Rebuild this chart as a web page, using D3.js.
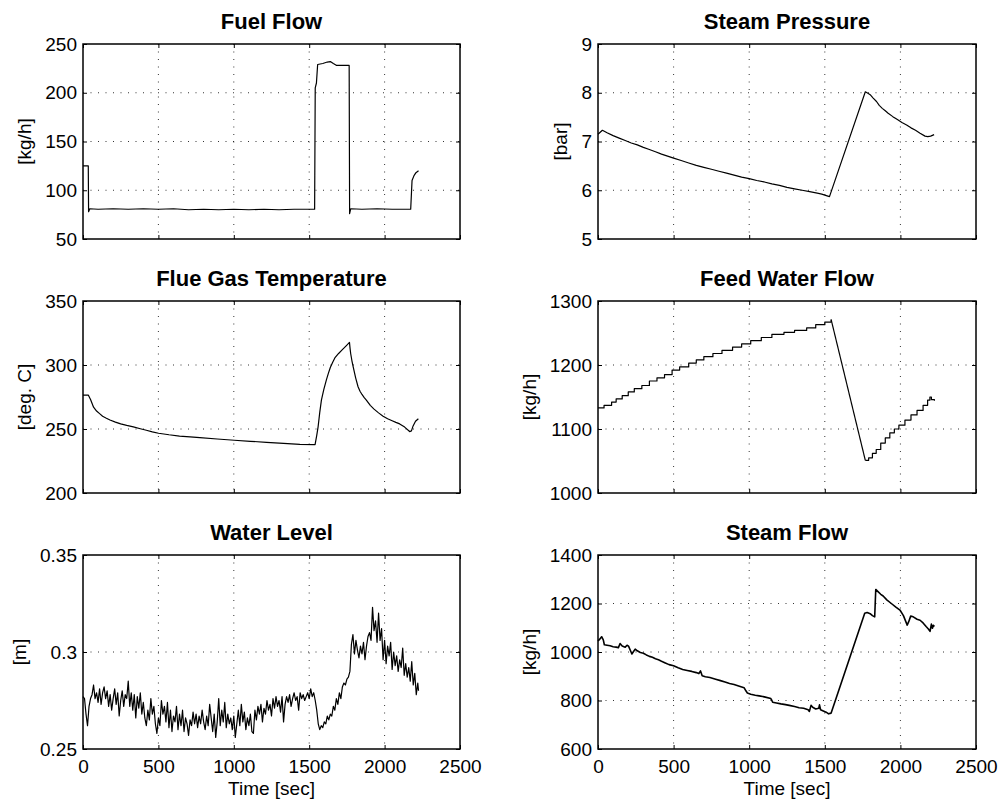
<!DOCTYPE html>
<html>
<head>
<meta charset="utf-8">
<script src="https://cdn.jsdelivr.net/npm/d3@7"></script>
<style>
  html, body { margin: 0; padding: 0; background: #fff; }
  svg { display: block; font-family: "Liberation Sans", Arial, Helvetica, sans-serif; }
  .tick text { font-size: 19px; fill: #000; }
  .title { font-size: 22px; font-weight: bold; }
  .lab { font-size: 19px; }
</style>
</head>
<body>
<svg id="chart" width="1003" height="802"></svg>
<script>
// --- données (t en s) ---
const timeTicks = [0, 500, 1000, 1500, 2000, 2500];

const fuelFlow = [
  [0, 125], [35, 125], [37, 78], [45, 81], [100, 80.5], [200, 81], [300, 80.5], [400, 81],
  [500, 80.5], [600, 81], [700, 80], [800, 80.5], [900, 80], [1000, 80.5], [1100, 80],
  [1200, 80.5], [1300, 80], [1400, 80.5], [1536, 80.5], [1540, 205], [1548, 210],
  [1556, 229], [1590, 230], [1620, 231.5], [1640, 232], [1660, 230], [1682, 228],
  [1720, 228], [1765, 228], [1768, 76], [1775, 81], [1850, 80.5], [1950, 81],
  [2050, 80.5], [2173, 80.5], [2182, 110], [2195, 115], [2208, 118], [2225, 120]
];

const steamPressure = [
  [0, 7.15], [29, 7.23], [60, 7.18], [100, 7.12], [140, 7.07], [180, 7.02], [220, 6.97],
  [260, 6.93], [300, 6.88], [335, 6.84], [380, 6.79], [420, 6.74], [460, 6.70], [500, 6.66],
  [550, 6.61], [600, 6.56], [650, 6.51], [700, 6.47], [750, 6.43], [800, 6.39], [850, 6.35],
  [900, 6.31], [950, 6.27], [1000, 6.24], [1050, 6.20], [1100, 6.17], [1150, 6.13],
  [1200, 6.10], [1250, 6.06], [1300, 6.03], [1350, 6.00], [1400, 5.97], [1450, 5.94],
  [1480, 5.92], [1510, 5.89], [1531, 5.87], [1768, 8.02], [1785, 7.99], [1800, 7.96],
  [1820, 7.89], [1842, 7.82], [1860, 7.74], [1880, 7.68], [1900, 7.63], [1919, 7.58],
  [1950, 7.51], [1980, 7.45], [2010, 7.39], [2041, 7.34], [2070, 7.28], [2100, 7.23],
  [2130, 7.17], [2163, 7.11], [2181, 7.10], [2200, 7.11], [2223, 7.14]
];

const flueGasTemp = [
  [0, 276.5], [35, 276.5], [50, 273], [70, 267], [90, 264], [110, 262], [130, 260],
  [155, 258.4], [179, 257], [215, 255.4], [250, 254], [290, 252.8], [334, 251.7],
  [380, 250.2], [420, 249], [460, 247.8], [501, 246.7], [570, 245.5], [640, 244.5],
  [710, 243.9], [775, 243.3], [890, 242.2], [1003, 241.2], [1110, 240.4], [1217, 239.6],
  [1330, 238.8], [1438, 238], [1539, 237.8], [1550, 245], [1559, 251.7], [1570, 263],
  [1581, 272.6], [1597, 281], [1614, 288.4], [1627, 293.5], [1640, 298], [1655, 302],
  [1670, 305.5], [1695, 309], [1720, 312], [1745, 315], [1767, 317.7], [1771, 313],
  [1775, 309], [1783, 303.5], [1791, 299], [1808, 290], [1824, 283], [1837, 279.5],
  [1850, 277], [1865, 274.5], [1879, 272.6], [1905, 268.5], [1930, 265.5], [1960, 262.6],
  [1990, 260], [2020, 258], [2050, 256.5], [2075, 255.2], [2100, 254], [2133, 251.5],
  [2166, 248], [2178, 248.5], [2189, 252.4], [2205, 256], [2224, 258]
];

// débit eau alimentaire : montée en escalier, chute, remontée en escalier
const feedRise = [
  [0, 1133], [40, 1137], [90, 1142], [120, 1147], [160, 1152], [200, 1158], [240, 1163],
  [290, 1168], [340, 1175], [390, 1180], [440, 1185], [490, 1192], [540, 1197], [600, 1203],
  [650, 1208], [700, 1213], [760, 1218], [820, 1223], [890, 1228], [950, 1233], [1010, 1238],
  [1080, 1243], [1150, 1248], [1230, 1251], [1300, 1254], [1380, 1258], [1440, 1263],
  [1500, 1267], [1542, 1271]
];
const feedDrop = [[1542, 1271], [1768, 1051]];
const feedRecover = [
  [1768, 1051], [1790, 1055], [1815, 1062], [1840, 1068], [1870, 1078], [1900, 1086],
  [1930, 1094], [1960, 1100], [1990, 1106], [2030, 1114], [2070, 1122], [2110, 1129],
  [2150, 1137], [2180, 1145], [2195, 1150], [2205, 1146], [2225, 1144]
];

// niveau d'eau, un relevé toutes les 10 s
const waterLevel = [
  0.277, 0.276, 0.268, 0.262, 0.272, 0.276, 0.278, 0.283, 0.276, 0.279,
  0.274, 0.281, 0.273, 0.279, 0.282, 0.276, 0.280, 0.272, 0.278, 0.270,
  0.276, 0.281, 0.273, 0.279, 0.267, 0.275, 0.280, 0.272, 0.278, 0.276,
  0.285, 0.272, 0.279, 0.270, 0.278, 0.266, 0.277, 0.271, 0.279, 0.268,
  0.274, 0.266, 0.262, 0.270, 0.265, 0.276, 0.268, 0.272, 0.263, 0.258,
  0.266, 0.262, 0.275, 0.268, 0.272, 0.264, 0.274, 0.261, 0.270, 0.259,
  0.267, 0.264, 0.272, 0.260, 0.268, 0.262, 0.270, 0.259, 0.266, 0.263,
  0.257, 0.265, 0.262, 0.269, 0.263, 0.268, 0.261, 0.267, 0.263, 0.270,
  0.264, 0.260, 0.267, 0.262, 0.273, 0.266, 0.259, 0.268, 0.256, 0.264,
  0.276, 0.262, 0.270, 0.264, 0.274, 0.261, 0.268, 0.263, 0.266, 0.260,
  0.267, 0.256, 0.263, 0.270, 0.262, 0.273, 0.264, 0.269, 0.260, 0.266,
  0.262, 0.268, 0.259, 0.258, 0.270, 0.265, 0.272, 0.268, 0.273, 0.264,
  0.271, 0.268, 0.275, 0.270, 0.273, 0.267, 0.276, 0.271, 0.277, 0.272,
  0.275, 0.269, 0.277, 0.264, 0.273, 0.277, 0.274, 0.278, 0.272, 0.276,
  0.279, 0.275, 0.277, 0.270, 0.279, 0.276, 0.278, 0.275, 0.277, 0.279,
  0.276, 0.281, 0.277, 0.279, 0.275, 0.270, 0.263, 0.260, 0.262, 0.261,
  0.264, 0.263, 0.267, 0.265, 0.268, 0.267, 0.272, 0.270, 0.276, 0.273,
  0.279, 0.276, 0.282, 0.284, 0.283, 0.286, 0.287, 0.290, 0.304, 0.309,
  0.299, 0.306, 0.301, 0.297, 0.303, 0.299, 0.305, 0.296, 0.303, 0.308,
  0.310, 0.306, 0.323, 0.311, 0.316, 0.305, 0.320, 0.306, 0.312, 0.296,
  0.306, 0.294, 0.303, 0.298, 0.305, 0.291, 0.300, 0.293, 0.298, 0.290,
  0.296, 0.292, 0.302, 0.288, 0.294, 0.287, 0.292, 0.285, 0.295, 0.283,
  0.289, 0.278, 0.284
];

const steamFlow = [
  [0, 1045], [10, 1052], [24, 1063], [35, 1050], [42, 1030], [60, 1028], [80, 1026],
  [100, 1022], [120, 1020], [135, 1018], [146, 1035], [160, 1025], [180, 1020], [192, 1028],
  [202, 1024], [215, 1005], [224, 992], [235, 1002], [246, 1012], [260, 1005], [280, 998],
  [300, 995], [320, 988], [340, 982], [360, 978], [380, 972], [400, 968], [420, 962],
  [445, 955], [470, 948], [500, 943], [530, 935], [560, 928], [590, 924], [620, 920],
  [650, 915], [667, 911], [678, 922], [689, 902], [710, 898], [740, 895], [778, 888],
  [810, 882], [840, 876], [870, 870], [900, 866], [930, 860], [966, 853], [978, 840],
  [988, 831], [1010, 826], [1040, 822], [1066, 819], [1100, 815], [1143, 808], [1150, 800],
  [1155, 793], [1180, 790], [1210, 786], [1240, 783], [1265, 780], [1300, 775], [1330, 770],
  [1360, 768], [1390, 762], [1398, 755], [1409, 780], [1420, 772], [1440, 765], [1460, 768],
  [1465, 782], [1472, 762], [1490, 757], [1509, 752], [1525, 745], [1542, 748], [1764, 1160],
  [1780, 1163], [1800, 1158], [1815, 1150], [1830, 1145], [1837, 1258], [1850, 1250],
  [1870, 1238], [1886, 1231], [1910, 1215], [1940, 1200], [1970, 1185], [1997, 1173],
  [2020, 1150], [2045, 1111], [2055, 1125], [2068, 1148], [2085, 1145], [2110, 1135],
  [2130, 1131], [2150, 1120], [2170, 1105], [2185, 1095], [2196, 1085], [2205, 1115],
  [2212, 1098], [2218, 1110], [2225, 1105]
];

const fuelTicks = [50, 100, 150, 200, 250];
const pressureTicks = [5, 6, 7, 8, 9];
const flueTicks = [200, 250, 300, 350];
const feedTicks = [1000, 1100, 1200, 1300];
const levelTicks = [0.25, 0.3, 0.35];
const steamTicks = [600, 800, 1000, 1200, 1400];

// --- mise en page ---
const cols = [[83, 460], [598, 976]];
const rows = [[44, 239], [301, 493], [555, 749]];

const panels = [
  { title: "Fuel Flow", unit: "[kg/h]", col: 0, row: 0, yTicks: fuelTicks,
    series: [{ data: fuelFlow }] },
  { title: "Steam Pressure", unit: "[bar]", col: 1, row: 0, yTicks: pressureTicks,
    series: [{ data: steamPressure }] },
  { title: "Flue Gas Temperature", unit: "[deg. C]", col: 0, row: 1, yTicks: flueTicks,
    series: [{ data: flueGasTemp }] },
  { title: "Feed Water Flow", unit: "[kg/h]", col: 1, row: 1, yTicks: feedTicks,
    series: [{ data: feedRise, step: true }, { data: feedDrop }, { data: feedRecover, step: true }] },
  { title: "Water Level", unit: "[m]", col: 0, row: 2, yTicks: levelTicks,
    series: [{ data: waterLevel.map((v, i) => [i * 10, v]).concat([[2225, 0.280]]) }] },
  { title: "Steam Flow", unit: "[kg/h]", col: 1, row: 2, yTicks: steamTicks,
    series: [{ data: steamFlow, width: 1.6 }] }
];

const svg = d3.select("#chart");

function drawPanel(p) {
  const [x0, x1] = cols[p.col];
  const [y0, y1] = rows[p.row];
  const x = d3.scaleLinear().domain([0, 2500]).range([x0, x1]);
  const y = d3.scaleLinear().domain(d3.extent(p.yTicks)).range([y1, y0]);
  const g = svg.append("g");

  // grille pointillée
  g.selectAll("line.gx").data(timeTicks.slice(1, -1)).join("line")
    .attr("x1", d => x(d)).attr("x2", d => x(d)).attr("y1", y0).attr("y2", y1)
    .attr("stroke", "#000").attr("stroke-width", 0.8).attr("stroke-dasharray", "1,6.5");
  g.selectAll("line.gy").data(p.yTicks.slice(1, -1)).join("line")
    .attr("x1", x0).attr("x2", x1).attr("y1", d => y(d)).attr("y2", d => y(d))
    .attr("stroke", "#000").attr("stroke-width", 0.8).attr("stroke-dasharray", "1,6.5");

  // courbes
  p.series.forEach(s => {
    const line = d3.line().x(d => x(d[0])).y(d => y(d[1]))
      .curve(s.step ? d3.curveStepAfter : d3.curveLinear);
    g.append("path").datum(s.data).attr("d", line)
      .attr("fill", "none").attr("stroke", "#000")
      .attr("stroke-width", s.width || 1.2).attr("stroke-linejoin", "round");
  });

  // axes, graduations vers l'intérieur
  const bottom = d3.axisBottom(x).tickValues(timeTicks).tickSizeInner(-4).tickSizeOuter(0)
    .tickPadding(11).tickFormat(d => String(d));
  if (p.row !== 2) bottom.tickFormat("");
  g.append("g").attr("transform", `translate(0,${y1})`).call(bottom);
  g.append("g").attr("transform", `translate(0,${y0})`)
    .call(d3.axisTop(x).tickValues(timeTicks).tickSizeInner(-4).tickSizeOuter(0).tickFormat(""));
  const left = g.append("g").attr("transform", `translate(${x0},0)`)
    .call(d3.axisLeft(y).tickValues(p.yTicks).tickSizeInner(-4).tickSizeOuter(0).tickPadding(6).tickFormat(d => String(d)));
  g.append("g").attr("transform", `translate(${x1},0)`)
    .call(d3.axisRight(y).tickValues(p.yTicks).tickSizeInner(-4).tickSizeOuter(0).tickFormat(""));
  g.selectAll(".domain").remove();
  g.selectAll(".tick line").attr("stroke", "#000").attr("stroke-width", 1);
  g.selectAll(".tick text").attr("font-family", null).attr("font-size", null);

  g.append("rect").attr("x", x0).attr("y", y0).attr("width", x1 - x0).attr("height", y1 - y0)
    .attr("fill", "none").attr("stroke", "#000").attr("stroke-width", 1.5);

  // titres et libellés
  g.append("text").attr("class", "title").attr("x", (x0 + x1) / 2).attr("y", y0 - 15)
    .attr("text-anchor", "middle").text(p.title);

  const minX = d3.min(left.selectAll(".tick text").nodes(), n => n.getBBox().x + x0);
  const lx = minX - 14;
  g.append("text").attr("class", "lab")
    .attr("transform", `translate(${lx},${(y0 + y1) / 2}) rotate(-90)`)
    .attr("text-anchor", "middle").text(p.unit);

  if (p.row === 2) {
    g.append("text").attr("class", "lab").attr("x", (x0 + x1) / 2).attr("y", y1 + 46)
      .attr("text-anchor", "middle").text("Time [sec]");
  }
}

panels.forEach(drawPanel);
</script>
</body>
</html>
